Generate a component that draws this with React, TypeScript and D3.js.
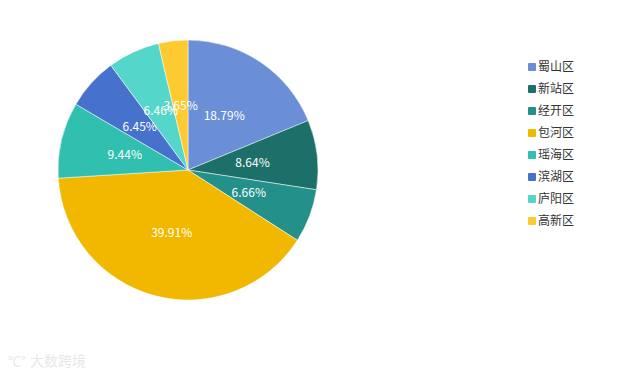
import * as d3 from 'd3';
import React from 'react';

const districts = ['蜀山区', '新站区', '经开区', '包河区', '瑶海区', '滨湖区', '庐阳区', '高新区'];
const shares = [18.79, 8.64, 6.66, 39.91, 9.44, 6.45, 6.46, 3.65];
const colors = ['#6b8fd6', '#1d7069', '#239189', '#f2b800', '#31c0b0', '#4672ce', '#55d6ca', '#fdca31'];

export default function App() {
  const width = 617, height = 374;
  const cx = 188, cy = 170, r = 130;

  const pie = d3.pie<number>().sort(null).value(d => d);
  const arcs = pie(shares);
  const arc = d3.arc<d3.PieArcDatum<number>>().innerRadius(0).outerRadius(r);
  const labelArc = d3.arc<d3.PieArcDatum<number>>().innerRadius(r / 2).outerRadius(r / 2);

  const legendY = d3.scalePoint<string>().domain(districts).range([67, 221]);
  const font = '"Noto Sans CJK SC", "Noto Sans", sans-serif';

  return (
    <svg width={width} height={height} style={{ position: 'absolute', left: 0, top: 0 }}>
      <rect width={width} height={height} fill="#fff" />
      <g transform={`translate(${cx},${cy})`}>
        {arcs.map((a, i) => (
          <path key={i} d={arc(a) || ''} fill={colors[i]} stroke="#fff" strokeWidth={0.5} />
        ))}
        {arcs.map((a, i) => {
          const [x, y] = labelArc.centroid(a);
          return (
            <text key={i} x={x} y={y} dy="0.35em" textAnchor="middle" fill="#fff"
              fontSize={12} fontFamily={font}>
              {shares[i].toFixed(2)}%
            </text>
          );
        })}
      </g>
      <g fontFamily={font} fontSize={12}>
        {districts.map((d, i) => (
          <g key={d} transform={`translate(528,${legendY(d)})`}>
            <rect x={0} y={-4} width={8} height={8} rx={1} fill={colors[i]} />
            <text x={10} y={0} dy="0.35em" fill="#333">{d}</text>
          </g>
        ))}
      </g>
      <g opacity={0.35} fill="#bbb" fontFamily={font}>
        <text x={8} y={366} fontSize={13}>℃°</text>
        <text x={30} y={366} fontSize={14}>大数跨境</text>
      </g>
    </svg>
  );
}
